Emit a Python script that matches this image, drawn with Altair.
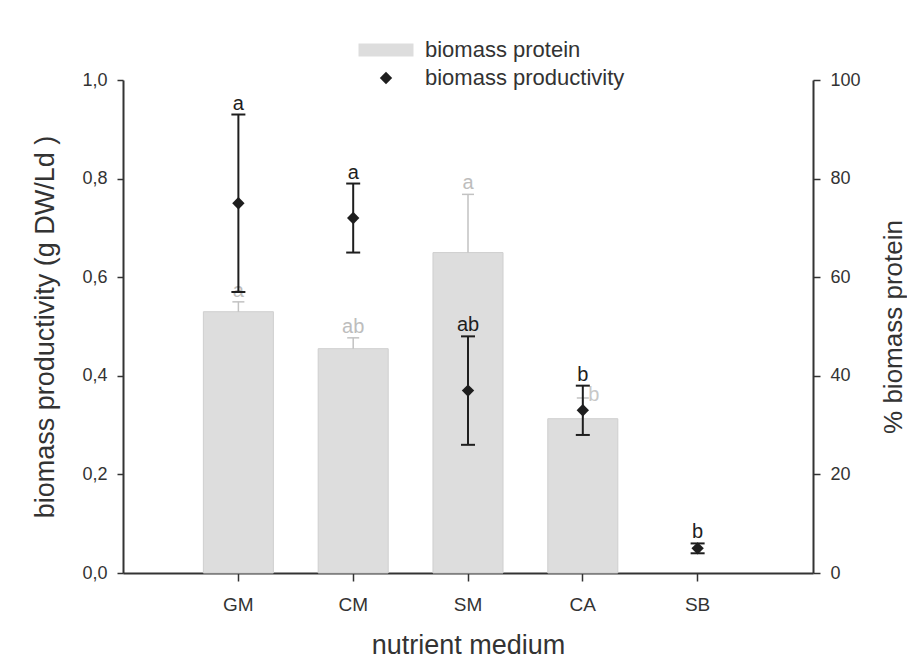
import altair as alt
import pandas as pd

media = ["GM", "CM", "SM", "CA", "SB"]
prod_mean = [0.75, 0.72, 0.37, 0.33, 0.05]
prod_lo = [0.57, 0.65, 0.26, 0.28, 0.04]
prod_hi = [0.93, 0.79, 0.48, 0.38, 0.06]
prod_letters = ["a", "a", "ab", "b", "b"]
prot_mean = [53.0, 45.5, 65.0, 31.3, None]
prot_hi = [55.0, 47.7, 76.8, 35.5, None]
prot_letters = ["a", "ab", "a", "b", ""]
series_names = ["biomass protein", "biomass productivity"]

df = pd.DataFrame({
    "medium": media,
    "prod_mean": prod_mean,
    "prod_lo": prod_lo,
    "prod_hi": prod_hi,
    "prod_letter": prod_letters,
    "prot_mean": prot_mean,
    "prot_hi": prot_hi,
    "prot_letter": prot_letters,
    "series": [series_names[1]] * len(media),
})

FONT = "Liberation Sans, Arial, sans-serif"
TXT = "#333333"
BAR = "#dddddd"
PROT_ERR = "#c2c2c2"
DARK = "#1e1e1e"

rect_path = "M-2.75,-0.65L2.75,-0.65L2.75,0.65L-2.75,0.65Z"
diamond_path = "M-0.62,0L0,-0.62L0.62,0L0,0.62Z"

x = alt.X("medium:N", sort=media,
          scale=alt.Scale(paddingInner=0.39, paddingOuter=0.7),
          axis=alt.Axis(title="nutrient medium", labelAngle=0, tickSize=8,
                        labelPadding=14, labelFontSize=19, titleFontSize=27,
                        titlePadding=18))

yr = alt.Scale(domain=[0, 100])
yl = alt.Scale(domain=[0, 1])

right_axis = alt.Axis(orient="right", title="% biomass protein",
                      values=[0, 20, 40, 60, 80, 100], tickSize=7,
                      labelPadding=10, labelFontSize=18, titleFontSize=26,
                      titlePadding=20, titleAngle=270, titleBaseline="top")
left_axis = alt.Axis(orient="left", title="biomass productivity (g DW/Ld )",
                     values=[0, 0.2, 0.4, 0.6, 0.8, 1.0],
                     labelExpr="replace(format(datum.value, '.1f'), '.', ',')",
                     tickSize=6, labelPadding=10, labelFontSize=18,
                     titleFontSize=27, titlePadding=22)

base = alt.Chart(df).encode(x=x)

bars = base.mark_bar(color=BAR, stroke="#cfcfcf", strokeWidth=1).encode(
    y=alt.Y("prot_mean:Q", scale=yr, axis=right_axis))
prot_err = base.mark_rule(color=PROT_ERR, strokeWidth=1.5).encode(
    y=alt.Y("prot_mean:Q", scale=yr, axis=right_axis), y2="prot_hi:Q")
prot_cap = base.mark_tick(color=PROT_ERR, thickness=1.5, size=12, opacity=1).encode(
    y=alt.Y("prot_hi:Q", scale=yr, axis=right_axis))
prot_txt = base.mark_text(color="#bdbdbd", fontSize=20, font=FONT,
                          baseline="alphabetic", dy=-5).encode(
    y=alt.Y("prot_hi:Q", scale=yr, axis=right_axis), text="prot_letter:N"
).transform_filter("datum.medium != 'CA'")
prot_txt_ca = base.mark_text(color="#c8c8c8", fontSize=20, font=FONT,
                             baseline="alphabetic", dx=11, dy=3).encode(
    y=alt.Y("prot_hi:Q", scale=yr, axis=right_axis), text="prot_letter:N"
).transform_filter("datum.medium == 'CA'")

protein = alt.layer(bars, prot_err, prot_cap, prot_txt, prot_txt_ca)

prod_err = base.mark_rule(color=DARK, strokeWidth=2).encode(
    y=alt.Y("prod_lo:Q", scale=yl, axis=left_axis), y2="prod_hi:Q")
cap_lo = base.mark_tick(color=DARK, thickness=2, size=14, opacity=1).encode(
    y=alt.Y("prod_lo:Q", scale=yl, axis=left_axis))
cap_hi = base.mark_tick(color=DARK, thickness=2, size=14, opacity=1).encode(
    y=alt.Y("prod_hi:Q", scale=yl, axis=left_axis))

legend = alt.Legend(title=None, orient="none", legendX=252, legendY=-41,
                    symbolSize=400, labelFontSize=22, labelFont=FONT,
                    labelColor=TXT, labelOffset=28, rowPadding=6, padding=0,
                    labelLimit=400)

points = base.mark_point(filled=True, size=400, opacity=1).encode(
    y=alt.Y("prod_mean:Q", scale=yl, axis=left_axis),
    color=alt.Color("series:N",
                    scale=alt.Scale(domain=series_names, range=[BAR, DARK]),
                    legend=legend),
    shape=alt.Shape("series:N",
                    scale=alt.Scale(domain=series_names,
                                    range=[rect_path, diamond_path]),
                    legend=legend),
)
prod_txt = base.mark_text(color=DARK, fontSize=20, font=FONT,
                          baseline="alphabetic", dy=-5).encode(
    y=alt.Y("prod_hi:Q", scale=yl, axis=left_axis), text="prod_letter:N")

productivity = alt.layer(prod_err, cap_lo, cap_hi, points, prod_txt)

chart = alt.layer(protein, productivity).resolve_scale(
    y="independent"
).properties(
    width=690, height=493,
    autosize=alt.AutoSizeParams(type="none"),
    padding={"left": 115, "top": 72, "right": 94, "bottom": 87},
    background="white",
).configure_axis(
    labelFont=FONT, titleFont=FONT, labelColor=TXT, titleColor=TXT,
    domainColor=TXT, tickColor=TXT, domainWidth=2, tickWidth=1.5,
    grid=False, titleFontWeight="normal",
).configure_view(strokeWidth=0)

chart.save("out.html", embed_options={"renderer": "svg", "actions": False})
